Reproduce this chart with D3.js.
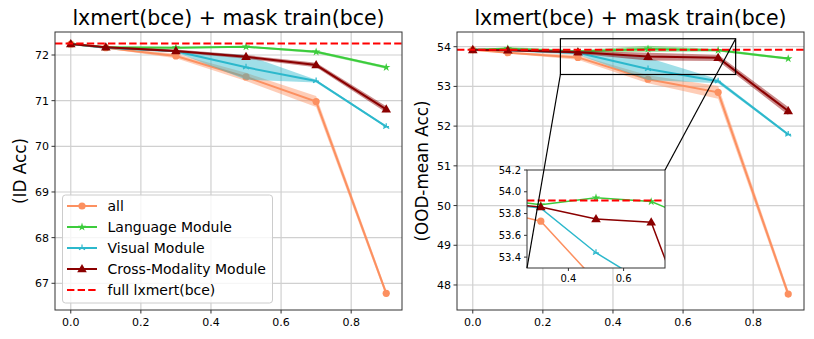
<!DOCTYPE html>
<html>
<head>
<meta charset="utf-8">
<script src="https://cdn.jsdelivr.net/npm/d3@7"></script>
<style>
  body { margin: 0; background: #ffffff; }
  text { font-family: "DejaVu Sans", sans-serif; fill: #000; }
</style>
</head>
<body>
<div id="viz-container"></div>
<script>
let w = 814;
let h = 339;

// ratios on the x axis
const xVals = [0, 0.1, 0.3, 0.5, 0.7, 0.9];

// ID accuracy (left)
const idAll = [72.24, 72.16, 71.98, 71.52, 70.98, 66.78];
const idAllErr = [0, 0.02, 0.05, 0.09, 0.12, 0.07];
const idLang = [72.24, 72.17, 72.16, 72.18, 72.07, 71.73];
const idLangErr = [0, 0.02, 0.02, 0.02, 0.03, 0.03];
const idVis = [72.24, 72.16, 72.08, 71.73, 71.43, 70.43];
const idVisErr = [0, 0.02, 0.02, 0.27, 0.03, 0.02];
const idCross = [72.24, 72.17, 72.09, 71.96, 71.78, 70.81];
const idCrossErr = [0, 0.02, 0.03, 0.04, 0.05, 0.07];
const idFull = 72.25;

// OOD-mean accuracy (right)
const oodAll = [53.92, 53.85, 53.73, 53.18, 52.85, 47.77];
const oodAllErr = [0, 0.02, 0.06, 0.1, 0.16, 0.1];
const oodLang = [53.92, 53.95, 53.88, 53.945, 53.91, 53.70];
const oodLangErr = [0, 0.04, 0.03, 0.08, 0.03, 0.03];
const oodVis = [53.92, 53.91, 53.85, 53.44, 53.13, 51.79];
const oodVisErr = [0, 0.02, 0.05, 0.28, 0.05, 0.03];
const oodCross = [53.92, 53.91, 53.86, 53.75, 53.72, 52.38];
const oodCrossErr = [0, 0.02, 0.04, 0.1, 0.08, 0.1];
const oodFull = 53.92;

const idTicksY = [67, 68, 69, 70, 71, 72];
const oodTicksY = [48, 49, 50, 51, 52, 53, 54];
const xTicks = [0, 0.2, 0.4, 0.6, 0.8];
const insetTicksY = [53.4, 53.6, 53.8, 54.0, 54.2];
const insetTicksX = [0.4, 0.6];

const names = ["all", "Language Module", "Visual Module", "Cross-Modality Module"];
const colors = ["#fc9060", "#3ccc3c", "#2cb8cc", "#8b0000"];
const markers = ["circle", "star", "tri", "triangle"];
const titleText = "lxmert(bce) + mask train(bce)";

let viz = d3.select("#viz-container")
              .append("svg")
              .attr("width", w)
              .attr("height", h)
              .style("background-color", "#ffffff");

function drawMarker(g, type, x, y, color, s) {
  if (type == "circle") {
    g.append("circle").attr("cx", x).attr("cy", y).attr("r", 3.6 * s).attr("fill", color);
  } else if (type == "star") {
    g.append("path").attr("d", d3.symbol(d3.symbolStar, 22 * s * s)())
      .attr("transform", `translate(${x},${y})`).attr("fill", color);
  } else if (type == "triangle") {
    g.append("path").attr("d", d3.symbol(d3.symbolTriangle, 40 * s * s)())
      .attr("transform", `translate(${x},${y + 0.5})`).attr("fill", color);
  } else {
    // thin tri marker
    let r = 3.5 * s;
    let p = "";
    [-90, 30, 150].forEach(a => {
      let t = a * Math.PI / 180;
      p += `M0,0L${r * Math.cos(t)},${r * Math.sin(t)}`;
    });
    p += `M${-r * 0.8},0L${r * 0.8},0`;
    g.append("path").attr("d", p).attr("transform", `translate(${x},${y})`)
      .attr("stroke", color).attr("stroke-width", 1.2).attr("fill", "none");
  }
}

function panel(opts) {
  let g = viz.append("g");
  let x = d3.scaleLinear().domain([-0.045, 0.945]).range([opts.x0, opts.x1]);
  let y = d3.scaleLinear().domain(opts.yDomain).range([opts.y1, opts.y0]);
  let clipId = "clip" + opts.id;
  viz.append("clipPath").attr("id", clipId).append("rect")
    .attr("x", opts.x0).attr("y", opts.y0)
    .attr("width", opts.x1 - opts.x0).attr("height", opts.y1 - opts.y0);

  // grid
  g.selectAll(".gx").data(xTicks).enter().append("line")
    .attr("x1", d => x(d)).attr("x2", d => x(d))
    .attr("y1", opts.y0).attr("y2", opts.y1)
    .attr("stroke", "#d0d0d0").attr("stroke-width", 1.2);
  g.selectAll(".gy").data(opts.yTicks).enter().append("line")
    .attr("x1", opts.x0).attr("x2", opts.x1)
    .attr("y1", d => y(d)).attr("y2", d => y(d))
    .attr("stroke", "#d0d0d0").attr("stroke-width", 1.2);

  let plot = g.append("g").attr("clip-path", `url(#${clipId})`);
  let area = d3.area().x(d => x(d.x)).y0(d => y(d.v - d.e)).y1(d => y(d.v + d.e));
  let line = d3.line().x(d => x(d.x)).y(d => y(d.v));

  opts.series.forEach((s, i) => {
    let pts = xVals.map((xv, j) => ({x: xv, v: s.vals[j], e: s.err[j]}));
    plot.append("path").datum(pts).attr("d", area)
      .attr("fill", colors[i]).attr("opacity", 0.45);
    plot.append("path").datum(pts).attr("d", line)
      .attr("fill", "none").attr("stroke", colors[i]).attr("stroke-width", 2);
    pts.forEach(p => drawMarker(plot, markers[i], x(p.x), y(p.v), colors[i], 1));
  });
  plot.append("line")
    .attr("x1", opts.x0).attr("x2", opts.x1)
    .attr("y1", y(opts.full)).attr("y2", y(opts.full))
    .attr("stroke", "red").attr("stroke-width", 2).attr("stroke-dasharray", "7.4,3.2");

  // frame
  g.append("rect").attr("x", opts.x0).attr("y", opts.y0)
    .attr("width", opts.x1 - opts.x0).attr("height", opts.y1 - opts.y0)
    .attr("fill", "none").attr("stroke", "#333").attr("stroke-width", 1);

  // ticks
  g.selectAll(".tx").data(xTicks).enter().append("line")
    .attr("x1", d => x(d)).attr("x2", d => x(d))
    .attr("y1", opts.y1).attr("y2", opts.y1 + 3.5).attr("stroke", "#333");
  g.selectAll(".lx").data(xTicks).enter().append("text")
    .attr("x", d => x(d)).attr("y", opts.y1 + 16)
    .attr("text-anchor", "middle").attr("font-size", 11)
    .text(d => d3.format(".1f")(d));
  g.selectAll(".ty").data(opts.yTicks).enter().append("line")
    .attr("x1", opts.x0 - 3.5).attr("x2", opts.x0)
    .attr("y1", d => y(d)).attr("y2", d => y(d)).attr("stroke", "#333");
  g.selectAll(".ly").data(opts.yTicks).enter().append("text")
    .attr("x", opts.x0 - 6).attr("y", d => y(d) + 4)
    .attr("text-anchor", "end").attr("font-size", 11)
    .text(d => d);

  g.append("text").attr("x", (opts.x0 + opts.x1) / 2).attr("y", 25)
    .attr("text-anchor", "middle").attr("font-size", 20.5).text(titleText);
  g.append("text")
    .attr("transform", `translate(${opts.labelX},${(opts.y0 + opts.y1) / 2}) rotate(-90)`)
    .attr("text-anchor", "middle").attr("font-size", 16.8).text(opts.ylabel);

  return {g: g, x: x, y: y};
}

let left = panel({
  id: "L", x0: 55, x1: 402, y0: 32, y1: 310,
  yDomain: [66.415, 72.504], yTicks: idTicksY, full: idFull,
  ylabel: "(ID Acc)", labelX: 26,
  series: [
    {vals: idAll, err: idAllErr},
    {vals: idLang, err: idLangErr},
    {vals: idVis, err: idVisErr},
    {vals: idCross, err: idCrossErr}
  ]
});

let right = panel({
  id: "R", x0: 457, x1: 804, y0: 32, y1: 310,
  yDomain: [47.37, 54.37], yTicks: oodTicksY, full: oodFull,
  ylabel: "(OOD-mean Acc)", labelX: 428,
  series: [
    {vals: oodAll, err: oodAllErr},
    {vals: oodLang, err: oodLangErr},
    {vals: oodVis, err: oodVisErr},
    {vals: oodCross, err: oodCrossErr}
  ]
});

// legend (left panel)
let leg = viz.append("g");
leg.append("rect").attr("x", 62.5).attr("y", 195).attr("width", 210).attr("height", 108)
  .attr("rx", 3).attr("fill", "#fff").attr("fill-opacity", 0.8)
  .attr("stroke", "#ccc").attr("stroke-width", 1);
names.forEach((n, i) => {
  let yy = 206 + i * 21;
  leg.append("line").attr("x1", 67).attr("x2", 97).attr("y1", yy).attr("y2", yy)
    .attr("stroke", colors[i]).attr("stroke-width", 2);
  drawMarker(leg, markers[i], 82, yy, colors[i], 1);
  leg.append("text").attr("x", 107.5).attr("y", yy + 5).attr("font-size", 14).text(n);
});
leg.append("line").attr("x1", 67).attr("x2", 97).attr("y1", 290).attr("y2", 290)
  .attr("stroke", "red").attr("stroke-width", 2).attr("stroke-dasharray", "7.4,3.2");
leg.append("text").attr("x", 107.5).attr("y", 295).attr("font-size", 14).text("full lxmert(bce)");

// inset zoom on right panel
let ix0 = 527, ix1 = 665, iy0 = 170, iy1 = 268;
let zx = [0.25, 0.75], zy = [53.3, 54.2];
let ins = viz.append("g");
let ixs = d3.scaleLinear().domain(zx).range([ix0, ix1]);
let iys = d3.scaleLinear().domain(zy).range([iy1, iy0]);

// zoom box on main axes
let rx = right.x, ry = right.y;
viz.append("rect").attr("x", rx(zx[0])).attr("y", ry(zy[1]))
  .attr("width", rx(zx[1]) - rx(zx[0])).attr("height", ry(zy[0]) - ry(zy[1]))
  .attr("fill", "none").attr("stroke", "#000").attr("stroke-width", 1.2);

viz.append("clipPath").attr("id", "clipI").append("rect")
  .attr("x", ix0).attr("y", iy0).attr("width", ix1 - ix0).attr("height", iy1 - iy0);
ins.append("rect").attr("x", ix0).attr("y", iy0).attr("width", ix1 - ix0).attr("height", iy1 - iy0)
  .attr("fill", "#fff");
let ip = ins.append("g").attr("clip-path", "url(#clipI)");
let iline = d3.line().x(d => ixs(d.x)).y(d => iys(d.v));
[oodAll, oodLang, oodVis, oodCross].forEach((vals, i) => {
  let pts = xVals.map((xv, j) => ({x: xv, v: vals[j]}));
  ip.append("path").datum(pts).attr("d", iline)
    .attr("fill", "none").attr("stroke", colors[i]).attr("stroke-width", 1.5);
  pts.forEach(p => drawMarker(ip, markers[i], ixs(p.x), iys(p.v), colors[i], 1));
});
ip.append("line").attr("x1", ix0).attr("x2", ix1)
  .attr("y1", iys(oodFull)).attr("y2", iys(oodFull))
  .attr("stroke", "red").attr("stroke-width", 2).attr("stroke-dasharray", "7.4,3.2");
ins.append("rect").attr("x", ix0).attr("y", iy0).attr("width", ix1 - ix0).attr("height", iy1 - iy0)
  .attr("fill", "none").attr("stroke", "#333").attr("stroke-width", 1);
ins.selectAll(".ity").data(insetTicksY).enter().append("line")
  .attr("x1", ix0 - 3).attr("x2", ix0).attr("y1", d => iys(d)).attr("y2", d => iys(d)).attr("stroke", "#333");
ins.selectAll(".ily").data(insetTicksY).enter().append("text")
  .attr("x", ix0 - 6).attr("y", d => iys(d) + 3.5).attr("text-anchor", "end")
  .attr("font-size", 10).text(d => d3.format(".1f")(d));
ins.selectAll(".itx").data(insetTicksX).enter().append("line")
  .attr("x1", d => ixs(d)).attr("x2", d => ixs(d)).attr("y1", iy1).attr("y2", iy1 + 3).attr("stroke", "#333");
ins.selectAll(".ilx").data(insetTicksX).enter().append("text")
  .attr("x", d => ixs(d)).attr("y", iy1 + 14).attr("text-anchor", "middle")
  .attr("font-size", 10).text(d => d3.format(".1f")(d));

// connector lines (lower-left and upper-right corners)
viz.append("line").attr("x1", rx(zx[0])).attr("y1", ry(zy[0])).attr("x2", ix0).attr("y2", iy1)
  .attr("stroke", "#000").attr("stroke-width", 1.2);
viz.append("line").attr("x1", rx(zx[1])).attr("y1", ry(zy[1])).attr("x2", ix1).attr("y2", iy0)
  .attr("stroke", "#000").attr("stroke-width", 1.2);
</script>
</body>
</html>
